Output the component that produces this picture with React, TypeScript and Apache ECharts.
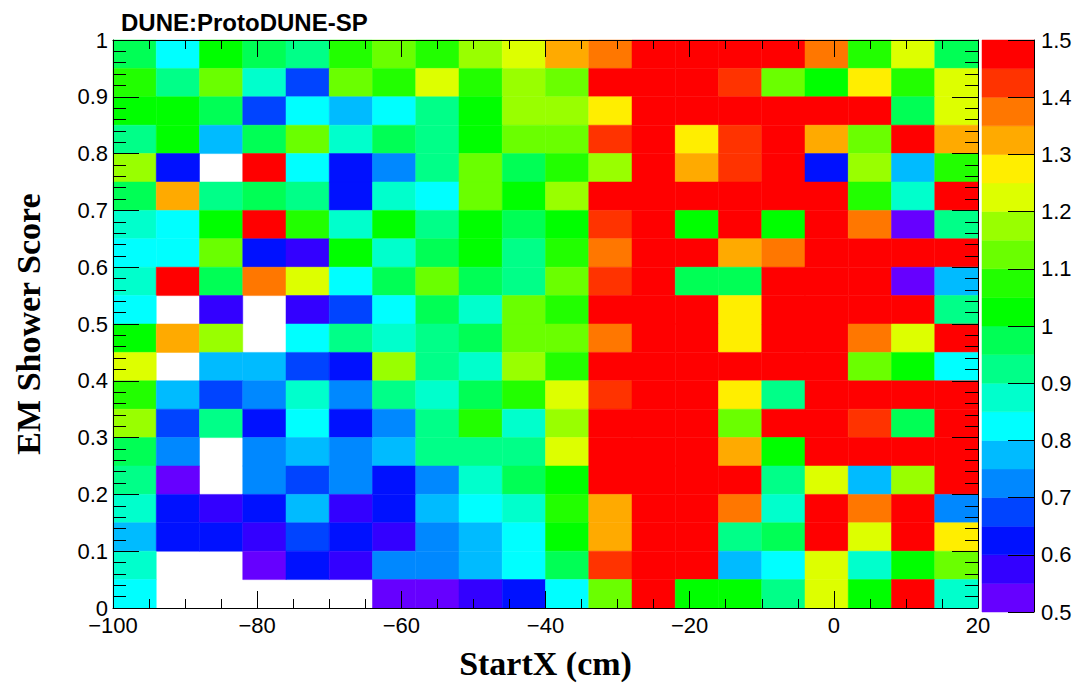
import React, { useEffect, useRef } from "react";
import * as echarts from "echarts";

// ---- Data ----
// Lower edges of StartX bins (cm), bin width 6 cm
const xBinLow = [-100, -94, -88, -82, -76, -70, -64, -58, -52, -46, -40, -34, -28, -22, -16, -10, -4, 2, 8, 14];
const X_BIN = 6;
// Lower edges of EM Shower Score bins, top row first; bin height 0.05
const yBinLow = [0.95, 0.9, 0.85, 0.8, 0.75, 0.7, 0.65, 0.6, 0.55, 0.5, 0.45, 0.4, 0.35, 0.3, 0.25, 0.2, 0.15, 0.1, 0.05, 0.0];
const Y_BIN = 0.05;

// Cell values (ratio), one row per score bin, null = empty cell
const row095 = [0.98, 0.83, 1.03, 0.98, 0.93, 1.08, 1.13, 1.08, 1.18, 1.23, 1.33, 1.38, 1.5, 1.5, 1.5, 1.5, 1.38, 1.08, 1.23, 0.98];
const row090 = [1.08, 0.93, 1.13, 0.88, 0.68, 1.13, 1.08, 1.23, 1.08, 1.18, 1.13, 1.5, 1.5, 1.5, 1.43, 1.13, 1.03, 1.28, 1.08, 1.23];
const row085 = [1.03, 1.03, 0.98, 0.68, 0.83, 0.78, 0.83, 0.93, 1.03, 1.18, 1.18, 1.28, 1.5, 1.5, 1.5, 1.5, 1.5, 1.5, 0.98, 1.23];
const row080 = [0.93, 1.03, 0.78, 0.98, 1.13, 0.88, 0.98, 0.93, 1.03, 1.13, 1.13, 1.43, 1.5, 1.28, 1.43, 1.5, 1.33, 1.13, 1.5, 1.33];
const row075 = [1.18, 0.63, null, 1.5, 0.83, 0.63, 0.73, 0.93, 1.13, 0.98, 1.08, 1.18, 1.5, 1.33, 1.43, 1.5, 0.63, 1.18, 0.78, 1.08];
const row070 = [0.98, 1.33, 0.93, 0.98, 0.93, 0.63, 0.88, 0.83, 1.13, 1.03, 1.18, 1.5, 1.5, 1.5, 1.5, 1.5, 1.5, 1.08, 0.88, 1.5];
const row065 = [0.88, 0.83, 1.03, 1.5, 1.08, 0.88, 1.03, 0.93, 1.03, 0.98, 1.03, 1.43, 1.5, 1.03, 1.5, 1.03, 1.5, 1.38, 0.53, 0.93];
const row060 = [0.83, 0.83, 1.13, 0.63, 0.58, 1.03, 0.88, 0.98, 1.03, 0.93, 1.08, 1.38, 1.5, 1.5, 1.33, 1.38, 1.5, 1.5, 1.5, 1.5];
const row055 = [0.88, 1.5, 0.98, 1.38, 1.23, 0.83, 0.98, 1.13, 0.98, 0.93, 1.13, 1.43, 1.5, 0.98, 0.98, 1.5, 1.5, 1.5, 0.53, 0.78];
const row050 = [0.83, null, 0.58, null, 0.58, 0.68, 0.83, 0.98, 0.88, 1.13, 1.08, 1.5, 1.5, 1.5, 1.28, 1.5, 1.5, 1.5, 1.5, 0.93];
const row045 = [1.03, 1.33, 1.18, null, 0.83, 0.93, 0.88, 0.93, 0.98, 1.13, 1.13, 1.38, 1.5, 1.5, 1.28, 1.5, 1.5, 1.38, 1.23, 1.5];
const row040 = [1.23, null, 0.78, 0.78, 0.68, 0.63, 1.18, 0.93, 0.88, 1.18, 1.08, 1.5, 1.5, 1.5, 1.5, 1.5, 1.5, 1.13, 1.03, 0.83];
const row035 = [1.08, 0.78, 0.68, 0.73, 0.88, 0.73, 0.93, 0.88, 0.98, 1.08, 1.23, 1.43, 1.5, 1.5, 1.28, 0.93, 1.5, 1.5, 1.5, 1.5];
const row030 = [1.18, 0.68, 0.93, 0.63, 0.83, 0.63, 0.73, 0.93, 1.08, 0.88, 1.18, 1.5, 1.5, 1.5, 1.13, 1.5, 1.5, 1.43, 0.98, 1.5];
const row025 = [0.98, 0.73, null, 0.73, 0.78, 0.73, 0.78, 0.93, 0.93, 0.93, 1.23, 1.5, 1.5, 1.5, 1.33, 1.03, 1.5, 1.5, 1.5, 1.5];
const row020 = [0.93, 0.53, null, 0.73, 0.68, 0.73, 0.63, 0.73, 0.88, 0.98, 1.03, 1.5, 1.5, 1.5, 1.5, 0.93, 1.23, 0.78, 1.18, 1.5];
const row015 = [0.88, 0.63, 0.58, 0.63, 0.78, 0.58, 0.63, 0.78, 0.83, 0.88, 1.08, 1.33, 1.5, 1.5, 1.38, 0.88, 1.5, 1.38, 1.5, 0.73];
const row010 = [0.78, 0.63, 0.63, 0.58, 0.68, 0.63, 0.58, 0.73, 0.78, 0.83, 1.03, 1.33, 1.5, 1.5, 0.93, 0.98, 1.5, 1.23, 1.5, 1.28];
const row005 = [0.88, null, null, 0.53, 0.63, 0.58, 0.73, 0.73, 0.78, 0.83, 0.98, 1.43, 1.5, 1.5, 0.78, 0.83, 1.23, 0.88, 1.03, 1.13];
const row000 = [0.83, null, null, null, null, null, 0.53, 0.53, 0.58, 0.63, 0.83, 1.13, 1.5, 1.03, 1.03, 0.93, 1.23, 1.03, 1.5, 0.88];

const rows = [row095, row090, row085, row080, row075, row070, row065, row060, row055, row050,
  row045, row040, row035, row030, row025, row020, row015, row010, row005, row000];

// Colour scale (z axis) contour levels
const levelLow = [0.5, 0.55, 0.6, 0.65, 0.7, 0.75, 0.8, 0.85, 0.9, 0.95, 1.0, 1.05, 1.1, 1.15, 1.2, 1.25, 1.3, 1.35, 1.4, 1.45];
const Z_MIN = 0.5;
const Z_STEP = 0.05;

const palette = [
  "#6600ff", "#3300ff", "#0011ff", "#0044ff", "#0088ff", "#00bbff", "#00ffff", "#00ffcc", "#00ff88", "#00ff55",
  "#00ff00", "#22ff00", "#6aff00", "#99ff00", "#ddff00", "#ffee00", "#ffaa00", "#ff7700", "#ff3300", "#ff0000",
];

function colorOf(v: number): string {
  let i = Math.floor((v - Z_MIN) / Z_STEP + 1e-6);
  if (i < 0) i = 0;
  if (i > palette.length - 1) i = palette.length - 1;
  return palette[i];
}

const SANS = "'Liberation Sans', Arial, Helvetica, sans-serif";
const SERIF = "'Liberation Serif', 'Times New Roman', serif";
const minus = (v: number) => String(v).replace("-", "\u2212");

export default function App() {
  const ref = useRef<HTMLDivElement>(null);

  useEffect(() => {
    if (!ref.current) return;
    const chart = echarts.init(ref.current, undefined, { renderer: "svg" });

    const cells: number[][] = [];
    rows.forEach((row, ri) => {
      row.forEach((v, ci) => {
        if (v !== null && v >= Z_MIN) cells.push([xBinLow[ci], yBinLow[ri], v]);
      });
    });
    const barData = levelLow.map((lo, i) => [lo, i]);

    const tickStyle = { color: "#000", width: 1 };
    const lineStyle = { color: "#000", width: 1 };
    const labelBase = { fontFamily: SANS, fontSize: 22, color: "#000" };

    chart.setOption({
      animation: false,
      backgroundColor: "#fff",
      title: {
        text: "DUNE:ProtoDUNE-SP",
        left: 116,
        top: 5,
        textStyle: { fontFamily: SANS, fontWeight: "bold", fontSize: 24, color: "#000" },
      },
      grid: [
        { left: 113, top: 40, width: 865, height: 572 },
        { left: 982, top: 40, width: 52, height: 572 },
      ],
      xAxis: [
        {
          type: "value", gridIndex: 0, min: -100, max: 20, interval: 20, position: "bottom", z: 10,
          axisLine: { show: true, onZero: false, lineStyle },
          axisTick: { show: true, inside: true, length: 17, lineStyle: tickStyle },
          minorTick: { show: true, splitNumber: 4, length: 9, lineStyle: tickStyle },
          splitLine: { show: false },
          axisLabel: { ...labelBase, lineHeight: 16, margin: 9, formatter: minus, showMinLabel: true, showMaxLabel: true },
          name: "StartX (cm)", nameLocation: "middle", nameGap: 38,
          nameTextStyle: { fontFamily: SERIF, fontWeight: "bold", fontSize: 34, color: "#000" },
        },
        {
          type: "value", gridIndex: 0, min: -100, max: 20, interval: 20, position: "top", z: 10,
          axisLine: { show: true, onZero: false, lineStyle },
          axisTick: { show: true, inside: true, length: 17, lineStyle: tickStyle },
          minorTick: { show: true, splitNumber: 4, length: 9, lineStyle: tickStyle },
          splitLine: { show: false },
          axisLabel: { show: false },
        },
        {
          type: "value", gridIndex: 1, min: 0, max: 1, show: false,
        },
      ],
      yAxis: [
        {
          type: "value", gridIndex: 0, min: 0, max: 1, interval: 0.1, position: "left", z: 10,
          axisLine: { show: true, onZero: false, lineStyle },
          axisTick: { show: true, inside: true, length: 26, lineStyle: tickStyle },
          minorTick: { show: true, splitNumber: 5, length: 13, lineStyle: tickStyle },
          splitLine: { show: false },
          axisLabel: { ...labelBase, margin: 5, padding: [5, 0, 0, 0], showMinLabel: true, showMaxLabel: true },
          name: "EM Shower Score", nameLocation: "middle", nameGap: 68, nameRotate: 90,
          nameTextStyle: { fontFamily: SERIF, fontWeight: "bold", fontSize: 34, color: "#000" },
        },
        {
          type: "value", gridIndex: 0, min: 0, max: 1, interval: 0.1, position: "right", z: 10,
          axisLine: { show: true, onZero: false, lineStyle },
          axisTick: { show: true, inside: true, length: 26, lineStyle: tickStyle },
          minorTick: { show: true, splitNumber: 5, length: 13, lineStyle: tickStyle },
          splitLine: { show: false },
          axisLabel: { show: false },
        },
        {
          type: "value", gridIndex: 1, min: 0.5, max: 1.5, interval: 0.1, position: "right", z: 10,
          axisLine: { show: true, onZero: false, lineStyle },
          axisTick: { show: true, inside: true, length: 26, lineStyle: tickStyle },
          splitLine: { show: false },
          axisLabel: { ...labelBase, margin: 7, padding: [5, 0, 0, 0], showMinLabel: true, showMaxLabel: true },
        },
      ],
      series: [
        {
          type: "custom",
          xAxisIndex: 0,
          yAxisIndex: 0,
          z: 1,
          data: cells,
          renderItem: (_params: any, api: any) => {
            const x0 = api.value(0);
            const y0 = api.value(1);
            const v = api.value(2);
            const pA = api.coord([x0, y0 + Y_BIN]);
            const pB = api.coord([x0 + X_BIN, y0]);
            const c = colorOf(v);
            return {
              type: "rect",
              shape: { x: pA[0], y: pA[1], width: pB[0] - pA[0], height: pB[1] - pA[1] },
              style: { fill: c, stroke: c, lineWidth: 0.5 },
            };
          },
        },
        {
          type: "custom",
          xAxisIndex: 2,
          yAxisIndex: 2,
          z: 1,
          data: barData,
          renderItem: (_params: any, api: any) => {
            const lo = api.value(0);
            const idx = api.value(1);
            const pA = api.coord([0, lo + Z_STEP]);
            const pB = api.coord([1, lo]);
            const c = palette[idx];
            return {
              type: "rect",
              shape: { x: pA[0], y: pA[1], width: pB[0] - pA[0], height: pB[1] - pA[1] },
              style: { fill: c, stroke: c, lineWidth: 0.5 },
            };
          },
        },
      ],
    });

    return () => chart.dispose();
  }, []);

  return (
    <div
      ref={ref}
      style={{ position: "absolute", left: 0, top: 0, width: 1081, height: 685, background: "#fff" }}
    />
  );
}
